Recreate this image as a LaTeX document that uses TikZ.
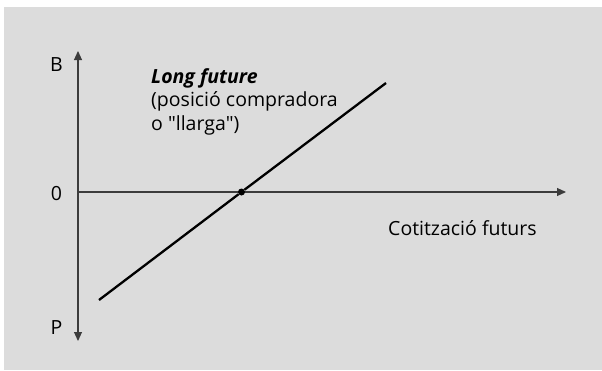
\documentclass[tikz,border=0pt]{standalone}
\usepackage{fontspec}
\setmainfont{Open Sans}
\usetikzlibrary{arrows.meta}
\definecolor{panel}{RGB}{220,220,220}
\definecolor{axisgray}{RGB}{60,60,60}

\begin{document}
\begin{tikzpicture}[x=1pt, y=-1pt, font=\fontsize{19.5}{23.3}\selectfont]
    \useasboundingbox (0,0) rectangle (602,370);
    \fill[panel] (4,7) rectangle (602,370);

    % Axes
    \coordinate (O) at (78,192);
    \coordinate (Ytop) at (78,51);
    \coordinate (Ybot) at (78,341);
    \coordinate (Xend) at (566,192);
    \draw[{Triangle[length=9pt,width=8pt]}-{Triangle[length=9pt,width=8pt]}, line width=1.1pt, axisgray] (Ybot) -- (Ytop);
    \draw[-{Triangle[length=9pt,width=8pt]}, line width=1.1pt, axisgray] (O) -- (Xend);

    % Axis labels
    \node[anchor=base] (B) at (56.5,71.5) {B};
    \node[anchor=base] (zero) at (56.5,200.5) {0};
    \node[anchor=base] (P) at (56.5,334) {P};
    \node[anchor=base west, inner sep=0pt] (price) at (388,235) {Cotització futurs};

    % Payoff of the long position
    \coordinate (L1) at (99,300);
    \coordinate (L2) at (386,83);
    \node[circle, fill, inner sep=0pt, minimum size=7pt] (BE) at (241.5,192) {};
    \draw[line width=2.3pt] (L1) -- (BE) -- (L2);

    % Name of the position (base of the node is its last line)
    \node[anchor=base west, align=left, inner sep=0pt] (long) at (151,130)
        {\textit{\textbf{Long future}}\\(posició compradora\\o \textquotedbl llarga\textquotedbl)};
\end{tikzpicture}
\end{document}
